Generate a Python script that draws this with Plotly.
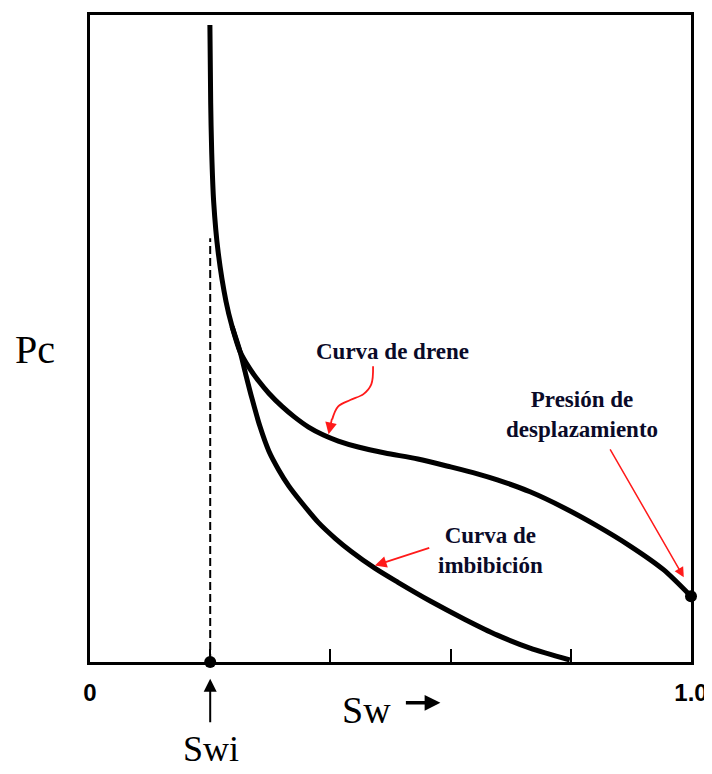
import plotly.graph_objects as go

# Drainage curve (Sw, Pc)
drene_sw = [0.1995, 0.2008, 0.2025, 0.2058, 0.2132, 0.2264, 0.2364, 0.2496, 0.2645, 0.2810, 0.2975,
            0.3190, 0.3405, 0.3636, 0.3884, 0.4132, 0.4463, 0.4909, 0.5455, 0.6000, 0.6446, 0.6777,
            0.7322, 0.7884, 0.8430, 0.8975, 0.9537, 1.0]
drene_pc = [0.9846, 0.8646, 0.7877, 0.7108, 0.6338, 0.5569, 0.5185, 0.4800, 0.4554, 0.4338, 0.4154,
            0.3954, 0.3785, 0.3631, 0.3508, 0.3415, 0.3323, 0.3231, 0.3138, 0.3015, 0.2908, 0.2815,
            0.2631, 0.2385, 0.2108, 0.1800, 0.1431, 0.1015]

# Imbibition curve
imb_sw = [0.2364, 0.2496, 0.2579, 0.2694, 0.2826, 0.2975, 0.3140, 0.3306, 0.3537, 0.3802, 0.4083,
          0.4347, 0.4744, 0.5124, 0.5669, 0.6231, 0.6777, 0.7322, 0.7983]
imb_pc = [0.5185, 0.4800, 0.4492, 0.4077, 0.3646, 0.3262, 0.2969, 0.2723, 0.2446, 0.2154, 0.1908,
          0.1708, 0.1446, 0.1231, 0.0938, 0.0662, 0.0415, 0.0215, 0.0031]

swi = 0.2
swi_dash_top = 0.655
pd_sw, pd_pc = 1.0, 0.1015

tick_vals = [0, 0.2, 0.4, 0.6, 0.8, 1.0]
tick_text = ["0", "", "", "", "", "1.0"]

# curved red arrow guide for "Curva de drene"
drene_arrow_x = [0.471, 0.468, 0.455, 0.433, 0.413, 0.403]
drene_arrow_y = [0.457, 0.429, 0.414, 0.405, 0.395, 0.375]

SERIF = "Liberation Serif, Times New Roman, Tinos, DejaVu Serif, serif"
TXT = "#0a0a28"
RED = "#ff1a1a"

fig = go.Figure()

fig.add_trace(go.Scatter(x=[swi, swi], y=[0, swi_dash_top], mode="lines",
                         line=dict(color="black", width=2, dash="8px,4px"), hoverinfo="skip"))
fig.add_trace(go.Scatter(x=drene_sw, y=drene_pc, mode="lines",
                         line=dict(color="black", width=5, shape="spline", smoothing=0.8), hoverinfo="skip"))
fig.add_trace(go.Scatter(x=imb_sw, y=imb_pc, mode="lines",
                         line=dict(color="black", width=5, shape="spline", smoothing=0.8), hoverinfo="skip"))
fig.add_trace(go.Scatter(x=[swi, pd_sw], y=[0, pd_pc], mode="markers",
                         marker=dict(color="black", size=12), cliponaxis=False, hoverinfo="skip"))
fig.add_trace(go.Scatter(x=drene_arrow_x, y=drene_arrow_y, mode="lines",
                         line=dict(color=RED, width=1.8, shape="spline", smoothing=1.0), hoverinfo="skip"))

ann = []
# red arrows
ann.append(dict(x=0.397, y=0.352, ax=0.403, ay=0.378, xref="x", yref="y", axref="x", ayref="y",
                text="", showarrow=True, arrowhead=2, arrowsize=1.3, arrowwidth=1.8, arrowcolor=RED))
ann.append(dict(x=0.474, y=0.149, ax=0.567, ay=0.177, xref="x", yref="y", axref="x", ayref="y",
                text="", showarrow=True, arrowhead=2, arrowsize=1.3, arrowwidth=1.8, arrowcolor=RED))
ann.append(dict(x=0.988, y=0.131, ax=0.864, ay=0.331, xref="x", yref="y", axref="x", ayref="y",
                text="", showarrow=True, arrowhead=2, arrowsize=1.3, arrowwidth=1.5, arrowcolor=RED))

def label(x, y, text, size, color, **kw):
    return dict(x=x, y=y, xref="paper", yref="paper", text=text, showarrow=False,
                xanchor="center", yanchor="middle", align="center",
                font=dict(family=SERIF, size=size, color=color), **kw)

ann.append(label(0.504, 0.480, "<b>Curva de drene</b>", 23, TXT))
ann.append(label(0.666, 0.172, "<b>Curva de<br>imbibición</b>", 23, TXT))
ann.append(label(0.818, 0.382, "<b>Presión de<br>desplazamiento</b>", 23, TXT))
ann.append(label(-0.091, 0.483, "Pc", 40, "black"))
ann.append(label(0.460, -0.074, "Sw", 38, "black"))
ann.append(label(0.202, -0.134, "Swi", 36, "black"))
# black arrows
ann.append(dict(x=0.583, y=-0.063, ax=-36, ay=0, xref="paper", yref="paper", text="", showarrow=True,
                arrowhead=2, arrowsize=0.9, arrowwidth=3.5, arrowcolor="black"))
ann.append(dict(x=swi, y=-0.026, ax=0, ay=45, xref="paper", yref="paper", text="", showarrow=True,
                arrowhead=2, arrowsize=1.3, arrowwidth=2, arrowcolor="black"))

fig.update_layout(
    width=704, height=766,
    margin=dict(l=82, r=17, t=4, b=112),
    paper_bgcolor="white", plot_bgcolor="white",
    showlegend=False,
    annotations=ann,
    xaxis=dict(range=[0, 1], showgrid=False, zeroline=False, showline=True, mirror=True,
               linecolor="black", linewidth=3, ticks="inside", ticklen=13, tickwidth=2, tickcolor="black",
               tickvals=tick_vals, ticktext=tick_text, ticklabelstandoff=7,
               tickfont=dict(family="Liberation Sans, Arial, sans-serif", size=24, color="black", weight="bold")),
    yaxis=dict(range=[0, 1], showgrid=False, zeroline=False, showline=True, mirror=True,
               linecolor="black", linewidth=3, showticklabels=False, ticks=""),
)

fig.write_html("out.html")
